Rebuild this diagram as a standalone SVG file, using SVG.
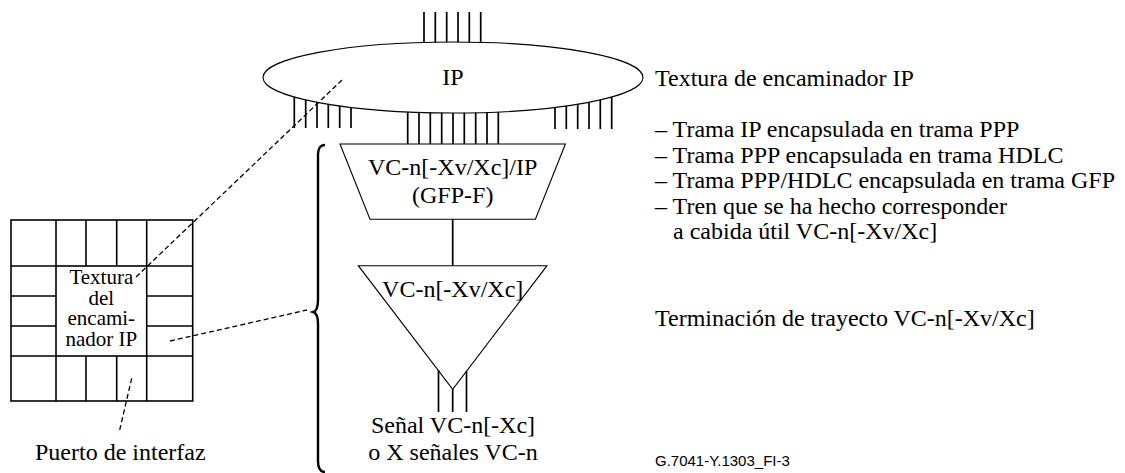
<svg xmlns="http://www.w3.org/2000/svg" width="1125" height="473" viewBox="0 0 1125 473">
<style>
.t{font-family:"Liberation Serif","Times New Roman",serif;font-size:24px;fill:#000}
.g{font-family:"Liberation Serif","Times New Roman",serif;font-size:21px;fill:#000}
.c{text-anchor:middle}
.tick{stroke:#000;stroke-width:1.7;fill:none}
.thin{stroke:#000;stroke-width:1.1;fill:#fff}
.grid{stroke:#000;stroke-width:1.6;fill:none}
.dash{stroke:#000;stroke-width:1.3;fill:none;stroke-dasharray:5 3}
.sans{font-family:"Liberation Sans",Arial,sans-serif;font-size:15px;fill:#000}
</style>
<rect width="1125" height="473" fill="#fff"/>
<g id="ip-fabric">
  <g class="tick">
    <path d="M424 12V60M435.3 12V60M446.7 12V60M458 12V60M469.3 12V60M480.7 12V60"/>
    <path d="M294.3 90V128M305.7 90V128M317 90V128M328.3 90V128M339.7 90V128M351 90V128"/>
    <path d="M407.7 90V144M419 90V144M430.3 90V144M441.7 90V144M453 90V144M464.3 90V144M475.7 90V144M487 90V144M498.3 90V144"/>
    <path d="M555 90V129M566.3 90V129M577.7 90V129M589 90V129M600.3 90V129M611.7 90V129"/>
  </g>
  <ellipse class="thin" cx="453" cy="77.5" rx="190" ry="35.5"/>
  <text class="t c" x="453" y="85">IP</text>
</g>
<g id="adaptation">
  <polygon class="thin" points="340,144 565.4,144 535.4,219.3 370,219.3"/>
  <text class="t c" x="452.7" y="175">VC-n[-Xv/Xc]/IP</text>
  <text class="t c" x="452.7" y="203">(GFP-F)</text>
</g>
<g id="termination">
  <polygon class="thin" points="358.3,265.7 547,265.7 452.7,389.3"/>
  <text class="t c" x="452.7" y="296.7">VC-n[-Xv/Xc]</text>
  <path class="tick" d="M438.5 370V412M452.7 389.3V412M466.5 371V412"/>
</g>
<g id="signal">
  <text class="t c" x="453" y="433.3">Señal VC-n[-Xc]</text>
  <text class="t c" x="453" y="460">o X señales VC-n</text>
</g>
<g id="router">
  <g class="grid">
    <rect x="11" y="220" width="181.7" height="181"/>
    <rect x="56" y="266" width="90.7" height="90"/>
    <path d="M56 220V266M86 220V266M116.7 220V266M146.7 220V266"/>
    <path d="M56 356V401M86 356V401M116.7 356V401M146.7 356V401"/>
    <path d="M11 266H56M11 296H56M11 326H56M11 356H56"/>
    <path d="M146.7 266H192.7M146.7 296H192.7M146.7 326H192.7M146.7 356H192.7"/>
  </g>
  <g class="g c">
    <text x="101.3" y="284">Textura</text>
    <text x="101.3" y="304.5">del</text>
    <text x="101.3" y="325">encami-</text>
    <text x="101.3" y="345.5">nador IP</text>
  </g>
  <text class="t" x="35" y="460">Puerto de interfaz</text>
</g>
<g id="brace">
  <path d="M325 145C320 145 318 148 318 156L318 300C318 308 316.5 311 313.3 312C316.5 313 318 316 318 324L318 461C318 468 320 472 325 472" fill="none" stroke="#000" stroke-width="2.4"/>
</g>
<g id="labels">
  <text class="t" x="655" y="86">Textura de encaminador IP</text>
  <text class="t" x="655" y="137">– Trama IP encapsulada en trama PPP</text>
  <text class="t" x="655" y="162.5">– Trama PPP encapsulada en trama HDLC</text>
  <text class="t" x="655" y="188">– Trama PPP/HDLC encapsulada en trama GFP</text>
  <text class="t" x="655" y="213.5">– Tren que se ha hecho corresponder</text>
  <text class="t" x="673" y="239">a cabida útil VC-n[-Xv/Xc]</text>
  <text class="t" x="655" y="326">Terminación de trayecto VC-n[-Xv/Xc]</text>
  <text class="sans" x="655" y="466">G.7041-Y.1303_FI-3</text>
</g>
<g id="connectors">
  <path class="tick" d="M452.7 219.3V265.7"/>
  <path class="dash" d="M342 80L135 278"/>
  <path class="dash" d="M170 341L307 310"/>
  <path class="dash" d="M131.7 378.3L119.3 431.7"/>
</g>
</svg>
